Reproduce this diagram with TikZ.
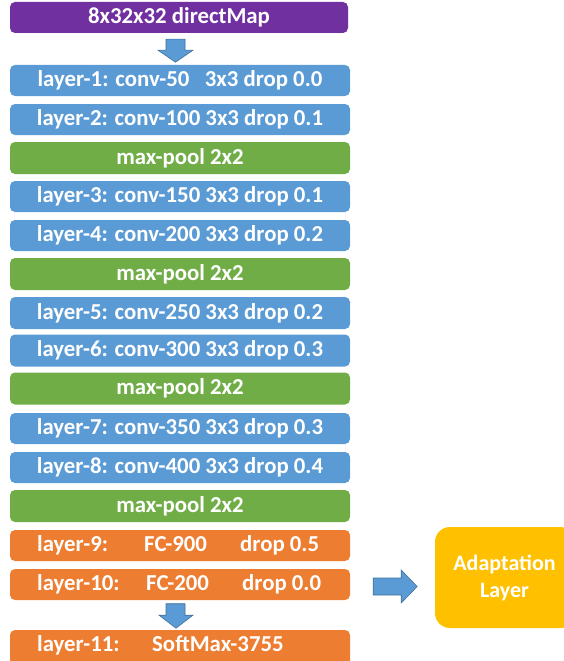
\documentclass[tikz,border=0pt]{standalone}
\usepackage{fontspec}
\setmainfont{Carlito}
\usetikzlibrary{calc}
\definecolor{cpurple}{HTML}{7030A0}
\definecolor{cblue}{HTML}{5B9BD5}
\definecolor{cgreen}{HTML}{70AD47}
\definecolor{corange}{HTML}{ED7D31}
\definecolor{cgold}{HTML}{FFC000}
\definecolor{cedge}{HTML}{41719C}
\begin{document}
\begin{tikzpicture}[x=1pt,y=-1pt,
  layerbox/.style={rectangle, rounded corners=5pt, inner sep=0pt, minimum width=340pt, minimum height=31pt, text=white, font=\fontsize{22.8}{24}\selectfont\bfseries},
  convbox/.style={layerbox, fill=cblue},
  poolbox/.style={layerbox, fill=cgreen},
  fcbox/.style={layerbox, fill=corange},
  blockarrow/.style={fill=cblue, draw=cedge, line width=0.6pt, line join=miter},
  lbl/.style={anchor=west, inner sep=0pt, text=white, font=\fontsize{22.8}{24}\selectfont\bfseries}
]
\useasboundingbox (0,0) rectangle (564,661);
\begin{scope}
\clip (0,0) rectangle (564,661);
\node[layerbox, fill=cpurple, minimum width=338pt] (inp) at (179,17.5) {8x32x32 directMap};
\node[convbox] (l1) at (180,80.5) {\rlap{layer-1: conv-50}\phantom{layer-2: conv-100\,}3x3 drop 0.0};
\node[convbox] (l2) at (180,119.5) {layer-2: conv-100 3x3 drop 0.1};
\node[poolbox, minimum height=32pt] (p1) at (180,158) {max-pool 2x2};
\node[convbox] (l3) at (180,196.5) {layer-3: conv-150 3x3 drop 0.1};
\node[convbox] (l4) at (180,235.5) {layer-4: conv-200 3x3 drop 0.2};
\node[poolbox, minimum height=32pt] (p2) at (180,274) {max-pool 2x2};
\node[convbox, minimum height=32pt] (l5) at (180,313) {layer-5: conv-250 3x3 drop 0.2};
\node[convbox, minimum height=32pt] (l6) at (180,350.5) {layer-6: conv-300 3x3 drop 0.3};
\node[poolbox, minimum height=32pt] (p3) at (180,388.5) {max-pool 2x2};
\node[convbox] (l7) at (180,428.5) {layer-7: conv-350 3x3 drop 0.3};
\node[convbox] (l8) at (180,467.5) {layer-8: conv-400 3x3 drop 0.4};
\node[poolbox, minimum height=32pt] (p4) at (180,506) {max-pool 2x2};
\node[fcbox] (l9) at (180,545.5) {};
\node[fcbox] (l10) at (180,584.5) {};
\node[fcbox, minimum height=36pt] (l11) at (180,648) {};
\node[lbl] (t9) at (37,545.5) {\makebox[107pt][l]{layer-9:}\makebox[96pt][l]{FC-900}drop 0.5};
\node[lbl] (t10) at (37,584.5) {\makebox[109pt][l]{layer-10:}\makebox[96pt][l]{FC-200}drop 0.0};
\node[lbl] (t11) at (37,645.5) {\makebox[115pt][l]{layer-11:}SoftMax-3755};
\node[rectangle, rounded corners=15pt, fill=cgold, minimum width=140pt, minimum height=101pt, inner sep=0pt] (ad) at (505,577.5) {};
\node[text=white, font=\fontsize{22}{27}\selectfont\bfseries, align=center] (adt) at (504.5,578) {Adaptation\\Layer};
\end{scope}
% block arrows
\begin{scope}[shift={(inp.south)}]
\draw[blockarrow] (-13,6) -- (6,6) -- (6,17) -- (14,17) -- (-3.5,29) -- (-21,17) -- (-13,17) -- cycle;
\end{scope}
\begin{scope}[shift={(l10.south)}]
\draw[blockarrow] (-14,3.5) -- (5,3.5) -- (5,15) -- (13,15) -- (-4,28) -- (-21,15) -- (-14,15) -- cycle;
\end{scope}
\begin{scope}[shift={(l10.east)}]
\draw[blockarrow] (23,-6.5) -- (51,-6.5) -- (51,-14.5) -- (67,2) -- (51,18.5) -- (51,10.5) -- (23,10.5) -- cycle;
\end{scope}
\end{tikzpicture}
\end{document}
